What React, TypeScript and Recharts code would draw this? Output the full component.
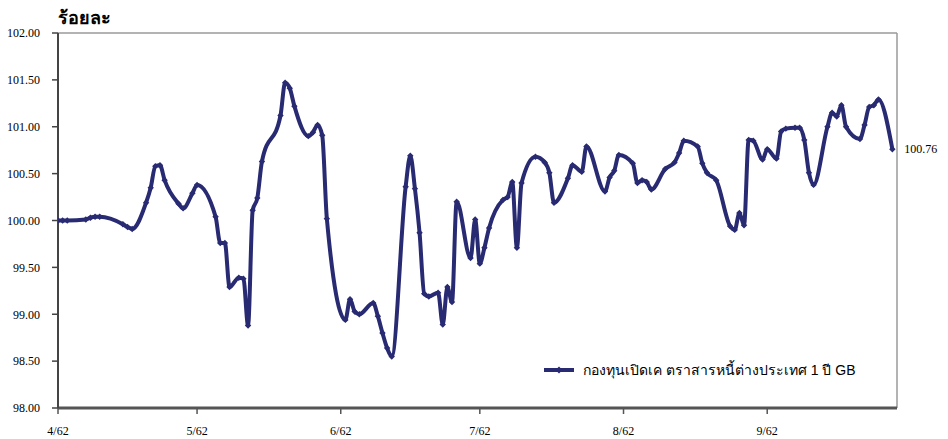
import React from "react";
import {
  LineChart,
  Line,
  XAxis,
  YAxis,
  ReferenceLine,
  LabelList,
} from "recharts";

// day index counted from 1 Apr 2562 (2019)
const days = [
  0, 1, 2, 6, 7, 8, 9, 14, 15, 16, 19, 20, 21, 22, 23, 26, 27, 29, 30, 34,
  35, 36, 37, 39, 40, 41, 42, 43, 44, 48, 49, 50, 51, 54, 55, 56, 57, 58, 62,
  63, 64, 65, 68, 69, 70, 71, 72, 75, 76, 77, 78, 79, 80, 82, 83, 84, 85, 86,
  89, 90, 91, 92, 93, 96, 97, 98, 99, 100, 103, 105, 106, 107, 110, 111, 113,
  114, 118, 119, 120, 121, 124, 125, 126, 127, 128, 131, 133, 134, 135, 138,
  139, 140, 142, 145, 146, 147, 148, 149, 150, 152, 153, 155, 156, 157, 159,
  160, 161, 162, 163, 166, 167, 168, 169, 170, 173, 174, 175, 176, 177, 180,
];

// NAV per unit, % of initial value
const navValues = [
  100.0, 100.0, 100.0, 100.01, 100.03, 100.04, 100.04, 99.96, 99.93, 99.91,
  100.19, 100.35, 100.58, 100.59, 100.43, 100.18, 100.13, 100.29, 100.38,
  100.04, 99.76, 99.76, 99.29, 99.39, 99.38, 98.88, 100.11, 100.24, 100.63,
  101.12, 101.47, 101.41, 101.22, 100.9, 100.94, 101.02, 100.91, 100.02, 98.94,
  99.16, 99.03, 99.0, 99.12, 98.98, 98.8, 98.64, 98.55, 100.36, 100.69, 100.34,
  99.87, 99.22, 99.19, 99.23, 98.89, 99.29, 99.13, 100.2, 99.6, 100.01, 99.54,
  99.71, 99.92, 100.22, 100.25, 100.41, 99.71, 100.4, 100.68, 100.62, 100.51,
  100.19, 100.45, 100.59, 100.52, 100.79, 100.31, 100.46, 100.53, 100.7,
  100.61, 100.4, 100.43, 100.41, 100.33, 100.55, 100.62, 100.72, 100.85,
  100.79, 100.61, 100.51, 100.43, 99.94, 99.9, 100.08, 99.95, 100.86, 100.85,
  100.65, 100.76, 100.66, 100.95, 100.98, 100.99, 100.99, 100.86, 100.51,
  100.38, 101.0, 101.15, 101.11, 101.23, 101.0, 100.87, 101.02, 101.21,
  101.23, 101.29, 100.76,
];

const monthTicks = [0, 30, 61, 91, 122, 153];
const monthLabels = ["4/62", "5/62", "6/62", "7/62", "8/62", "9/62"];
const yTicks = [98, 98.5, 99, 99.5, 100, 100.5, 101, 101.5, 102];

const seriesName = "กองทุนเปิดเค ตราสารหนี้ต่างประเทศ 1 ปี GB";

const data = days.map((d, i) => ({ day: d, nav: navValues[i] }));

const NAVY = "#282a72";
const SERIF = "'Liberation Serif', 'Times New Roman', serif";
const SANS = "'Liberation Sans', Arial, 'Noto Sans', sans-serif";

const Diamond = (props: any) => {
  const { cx, cy, index } = props;
  if (cx == null || cy == null) return null;
  const r = 3.2;
  return (
    <path
      key={`d-${index}`}
      d={`M${cx},${cy - r}L${cx + r},${cy}L${cx},${cy + r}L${cx - r},${cy}Z`}
      fill={NAVY}
    />
  );
};

const EndLabel = (props: any) => {
  const { x, y, index, value } = props;
  if (index !== data.length - 1) return null;
  return (
    <text
      x={x + 12}
      y={y + 4}
      fontFamily={SERIF}
      fontSize={12}
      fill="#000"
    >
      {Number(value).toFixed(2)}
    </text>
  );
};

export default function App() {
  return (
    <div
      style={{
        position: "absolute",
        left: 0,
        top: 0,
        width: 948,
        height: 439,
        background: "#fff",
      }}
    >
      <div
        style={{
          position: "absolute",
          left: 58,
          top: 3,
          fontFamily: SANS,
          fontWeight: 700,
          fontSize: 18,
          color: "#000",
        }}
      >
        ร้อยละ
      </div>
      <LineChart
        width={948}
        height={439}
        data={data}
        margin={{ top: 33, right: 51, bottom: 1, left: 8 }}
      >
        <XAxis
          type="number"
          dataKey="day"
          domain={[0, 181]}
          ticks={monthTicks}
          tickFormatter={(v: number) => monthLabels[monthTicks.indexOf(v)] ?? ""}
          height={30}
          tickSize={6}
          tickMargin={12}
          axisLine={{ stroke: "#555", strokeWidth: 3 }}
          tickLine={{ stroke: "#555", strokeWidth: 1.5 }}
          tick={{ fontFamily: SERIF, fontSize: 12, fill: "#000" }}
          allowDataOverflow
        />
        <YAxis
          type="number"
          domain={[98, 102]}
          ticks={yTicks}
          tickFormatter={(v: number) => v.toFixed(2)}
          width={50}
          tickSize={6}
          tickMargin={12}
          axisLine={{ stroke: "#444", strokeWidth: 2 }}
          tickLine={{ stroke: "#444", strokeWidth: 1.5 }}
          tick={{ fontFamily: SERIF, fontSize: 12, fill: "#000" }}
          interval={0}
        />
        <ReferenceLine y={102} stroke="#9a9a9a" strokeWidth={1.5} />
        <ReferenceLine x={181} stroke="#9a9a9a" strokeWidth={1.5} />
        <Line
          type="monotone"
          dataKey="nav"
          name={seriesName}
          stroke={NAVY}
          strokeWidth={4}
          dot={<Diamond />}
          activeDot={false}
          isAnimationActive={false}
        >
          <LabelList dataKey="nav" content={<EndLabel />} />
        </Line>
      </LineChart>
      <div
        style={{
          position: "absolute",
          left: 543,
          top: 359,
          display: "flex",
          alignItems: "center",
          fontFamily: SANS,
          fontSize: 14,
          color: "#000",
        }}
      >
        <svg width={32} height={10} style={{ marginRight: 8 }}>
          <line x1={1} y1={5} x2={31} y2={5} stroke={NAVY} strokeWidth={4} />
          <path d="M16,1.5L19.5,5L16,8.5L12.5,5Z" fill={NAVY} />
        </svg>
        <span>{seriesName}</span>
      </div>
    </div>
  );
}
